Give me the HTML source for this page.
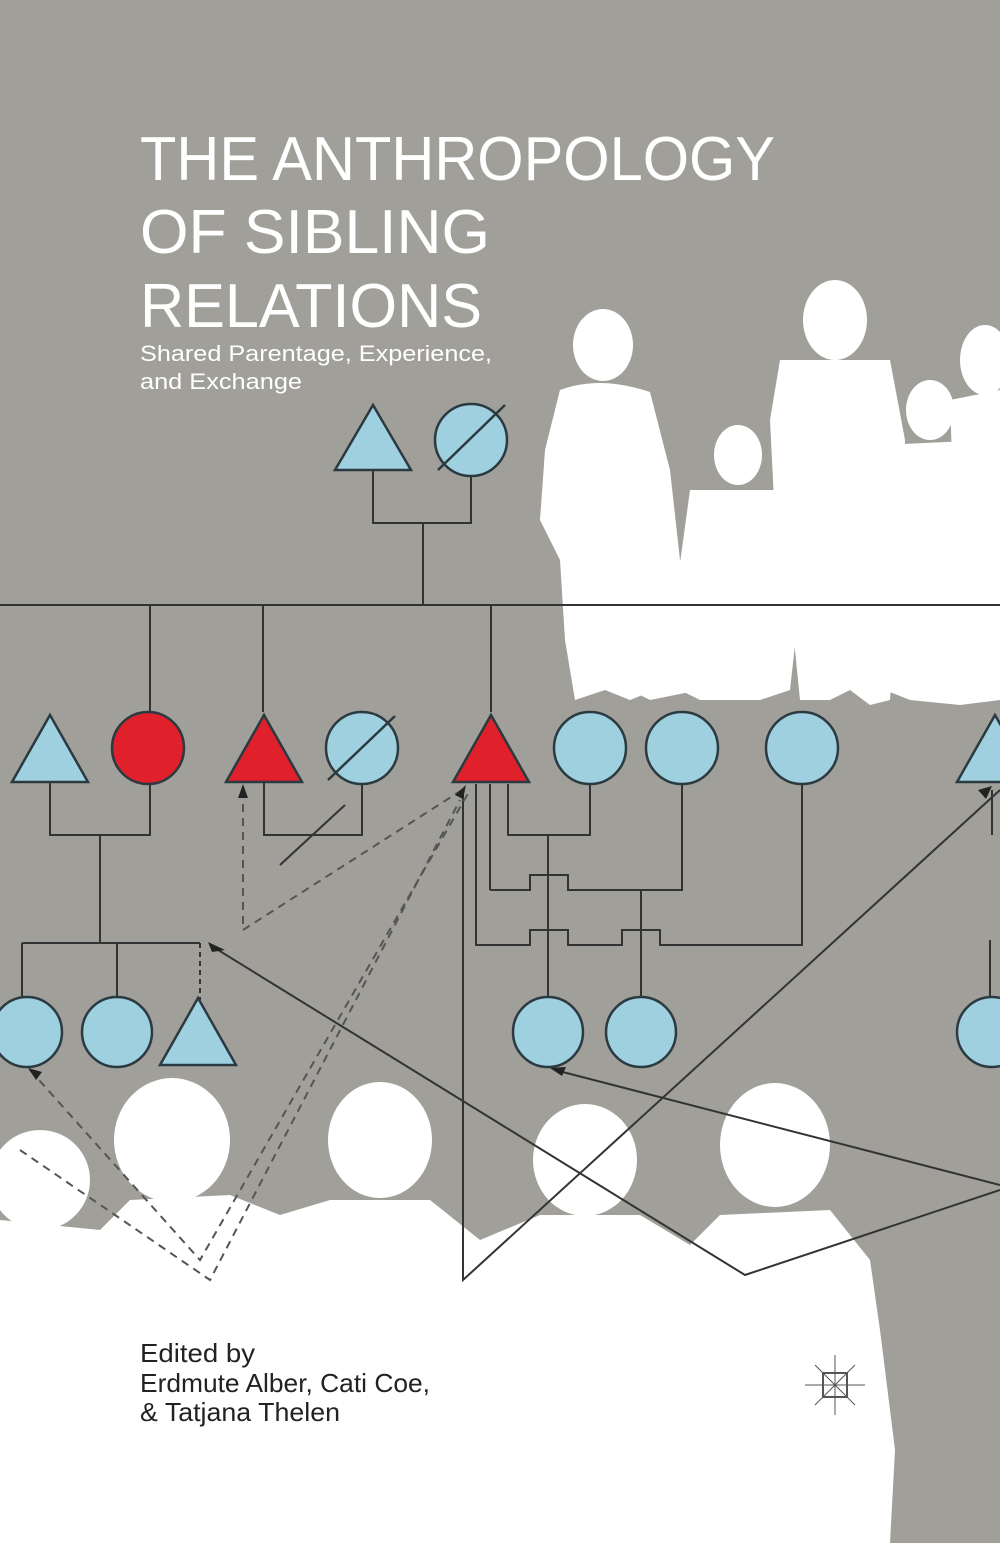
<!DOCTYPE html>
<html><head><meta charset="utf-8"><style>
html,body{margin:0;padding:0;background:#a19f99;}
svg{display:block;}
</style></head><body>
<svg width="1000" height="1543" viewBox="0 0 1000 1543" xmlns="http://www.w3.org/2000/svg">
<rect width="1000" height="1543" fill="#a19f99"/>
<!-- top-right silhouettes -->
<g fill="#fff">
<ellipse cx="603" cy="345" rx="30" ry="36"/>
<path d="M560 390 Q600 375 650 392 L670 470 L680 560 L660 600 L655 690 L630 700 L605 690 L575 700 L565 640 L560 560 L540 520 L545 450 Z"/>
<ellipse cx="738" cy="455" rx="24" ry="30"/>
<path d="M690 490 L790 490 L800 600 L790 690 L760 700 L700 700 L680 690 L675 600 Z"/>
<ellipse cx="835" cy="320" rx="32" ry="40"/>
<path d="M780 360 L890 360 L905 440 L900 560 L890 700 L870 705 L850 690 L830 700 L800 700 L790 600 L775 520 L770 420 Z"/>
<ellipse cx="930" cy="410" rx="24" ry="30"/>
<path d="M880 445 L990 440 L1000 470 L1000 700 L960 705 L910 700 L885 690 L880 600 Z"/>
<ellipse cx="985" cy="360" rx="25" ry="35"/>
<path d="M950 400 L1000 390 L1000 700 L960 700 Z"/>
<path d="M630 560 L690 560 L700 690 L650 700 L630 690 Z"/>
</g>
<!-- bottom crowd -->
<g fill="#fff">
<ellipse cx="40" cy="1180" rx="50" ry="50"/>
<ellipse cx="172" cy="1140" rx="58" ry="62"/>
<ellipse cx="380" cy="1140" rx="52" ry="58"/>
<ellipse cx="585" cy="1160" rx="52" ry="56"/>
<ellipse cx="775" cy="1145" rx="55" ry="62"/>
<path d="M0 1220 L100 1230 L130 1200 L230 1195 L280 1215 L330 1200 L430 1200 L480 1240 L540 1215 L640 1215 L690 1245 L720 1215 L830 1210 L870 1260 L880 1330 L895 1450 L890 1543 L0 1543 Z"/>
</g>
<g stroke="#333" stroke-width="2" fill="none">
<path d="M373 470 V523 H471 V476"/>
<path d="M423 523 V605"/>
<path d="M0 605 H1000"/>
<path d="M150 605 V712 M263 605 V712 M491 605 V712"/>
<path d="M50 782 V835 H150 V784 M100 835 V943 M22 943 H200 M22 943 V1000 M117 943 V1000"/>
<path d="M200 943 V1000" stroke-dasharray="5 4"/>
<path d="M264 782 V835 H362 V784"/>
<path d="M280 865 L345 805"/>
<path d="M508 784 V835 H590 V784"/>
<path d="M490 784 V890 M476 784 V945 H530 V930 H568 V945 H622 V930 H660 V945 H802 V784"/>
<path d="M490 890 H530 V875 H568 V890 H682 V784"/>
<path d="M548 835 V998 M641 890 V998"/>
<path d="M992 790 V835"/>
<path d="M990 940 V1000"/>
<path d="M210 945 L745 1275 L1000 1190"/>
<path d="M463 790 V1280 L1000 790"/>
<path d="M555 1070 L1000 1185"/>
</g>
<g stroke="#555" stroke-width="2" fill="none" stroke-dasharray="8 6">
<path d="M243 790 V930 L462 790"/>
<path d="M30 1070 L200 1260 L470 790"/>
<path d="M20 1150 L210 1280 L460 800"/>
</g>
<!-- top shapes -->
<g stroke="#2a3a40" stroke-width="2.5">
<polygon points="373,405 335,470 411,470" fill="#9fd0df"/>
<circle cx="471" cy="440" r="36" fill="#9fd0df"/>
<line x1="438" y1="470" x2="505" y2="405"/>
<polygon points="50,715 12,782 88,782" fill="#9fd0df"/>
<circle cx="148" cy="748" r="36" fill="#e0202a"/>
<polygon points="264,715 226,782 302,782" fill="#e0202a"/>
<circle cx="362" cy="748" r="36" fill="#9fd0df"/>
<line x1="328" y1="780" x2="395" y2="716"/>
<polygon points="491,715 453,782 529,782" fill="#e0202a"/>
<circle cx="590" cy="748" r="36" fill="#9fd0df"/>
<circle cx="682" cy="748" r="36" fill="#9fd0df"/>
<circle cx="802" cy="748" r="36" fill="#9fd0df"/>
<polygon points="995,715 957,782 1033,782" fill="#9fd0df"/>
<circle cx="27" cy="1032" r="35" fill="#9fd0df"/>
<circle cx="117" cy="1032" r="35" fill="#9fd0df"/>
<polygon points="198,998 160,1065 236,1065" fill="#9fd0df"/>
<circle cx="548" cy="1032" r="35" fill="#9fd0df"/>
<circle cx="641" cy="1032" r="35" fill="#9fd0df"/>
<circle cx="992" cy="1032" r="35" fill="#9fd0df"/>
</g>
<g fill="#222">
<polygon points="243,784 238,798 248,798"/>
<polygon points="466,785 455,795 463,799"/>
<polygon points="28,1068 36,1080 42,1072"/>
<polygon points="225,950 208,942 212,952"/>
<polygon points="550,1068 566,1067 562,1076"/>
<polygon points="992,786 978,790 986,799"/>
</g>
<!-- text -->
<g fill="#fff" font-family="Liberation Sans, sans-serif">
<text x="140" y="180" font-size="62" textLength="635" lengthAdjust="spacingAndGlyphs">THE ANTHROPOLOGY</text>
<text x="140" y="253" font-size="62" textLength="350" lengthAdjust="spacingAndGlyphs">OF SIBLING</text>
<text x="140" y="327" font-size="62" textLength="342" lengthAdjust="spacingAndGlyphs">RELATIONS</text>
<text x="140" y="361" font-size="22" textLength="352" lengthAdjust="spacingAndGlyphs">Shared Parentage, Experience,</text>
<text x="140" y="389" font-size="22" textLength="162" lengthAdjust="spacingAndGlyphs">and Exchange</text>
</g>
<g fill="#222" font-family="Liberation Sans, sans-serif" font-size="26">
<text x="140" y="1362" textLength="115" lengthAdjust="spacingAndGlyphs">Edited by</text>
<text x="140" y="1392" textLength="290" lengthAdjust="spacingAndGlyphs">Erdmute Alber, Cati Coe,</text>
<text x="140" y="1421" textLength="200" lengthAdjust="spacingAndGlyphs">&amp; Tatjana Thelen</text>
</g>
<g stroke="#555" stroke-width="2" fill="none">
<rect x="823" y="1373" width="24" height="24"/>
<path d="M835 1355 V1415 M805 1385 H865 M815 1365 L855 1405 M855 1365 L815 1405" stroke-width="1"/>
</g>
</svg>
</body></html>
